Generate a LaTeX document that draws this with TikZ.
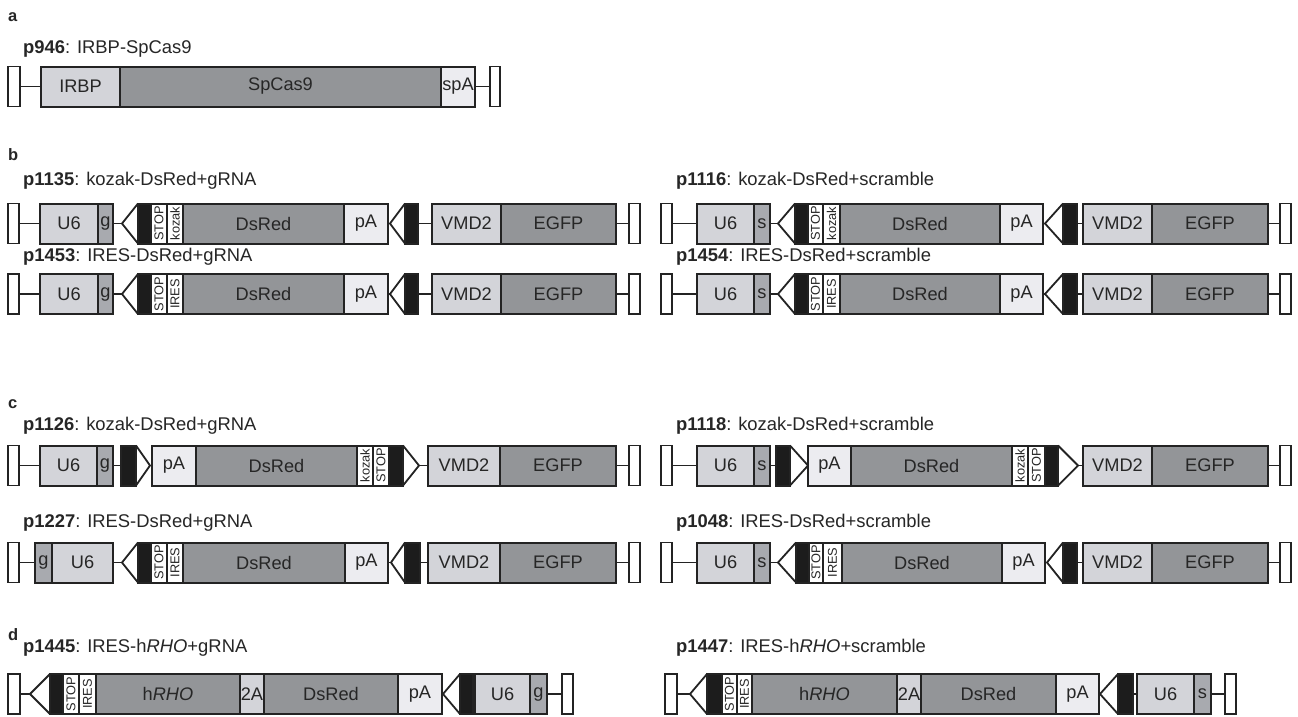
\documentclass[tikz,border=0pt]{standalone}
\usepackage{fontspec}
\setmainfont{Liberation Sans}
\definecolor{edge}{HTML}{232323}
\definecolor{ltg}{HTML}{D3D4D9}
\definecolor{dkg}{HTML}{939598}
\definecolor{mdg}{HTML}{A8AAAF}
\definecolor{vlg}{HTML}{ECECF0}
\definecolor{blk}{HTML}{1C1C1C}
\definecolor{txt}{HTML}{262626}
\newcommand{\boxfont}{\fontsize{18.2}{20}\selectfont}
\newcommand{\vfont}{\fontsize{12.8}{14}\selectfont}
\newcommand{\ttlfont}{\fontsize{18.4}{20}\selectfont}
\newcommand{\letfont}{\fontsize{16.5}{18}\selectfont\bfseries}
\newcommand{\vt}[1]{\rotatebox{90}{#1}}
\newcommand{\elm}[5]{\node[#1, minimum width={(#4)-(#3)}] (#2) at (#3,\yc) {#5};}
\newcommand{\loxL}[4]{\coordinate (#1a) at (#2,\yc); \elm{bk}{#1}{#3}{#4}{} \draw[lox] (#1.north west) -- (#1a) -- (#1.south west);}
\newcommand{\loxR}[4]{\elm{bk}{#1}{#2}{#3}{} \coordinate (#1a) at (#4,\yc); \draw[lox] (#1.north east) -- (#1a) -- (#1.south east);}
\newcommand{\cn}[2]{\draw[conn] (#1) -- (#2);}
\tikzset{
  el/.style={draw=edge, line width=2pt, minimum height=40pt, inner sep=0pt, outer sep=0pt, anchor=west, text=txt, font=\boxfont},
  lt/.style={el, fill=ltg},
  dk/.style={el, fill=dkg},
  md/.style={el, fill=mdg},
  pa/.style={el, fill=vlg},
  wt/.style={el, fill=white, font=\vfont},
  bk/.style={el, fill=blk},
  en/.style={el, fill=white, line width=1.8pt},
  conn/.style={draw=edge, line width=1.6pt},
  lox/.style={draw=edge, line width=1.8pt, line join=miter},
  ttl/.style={anchor=base west, inner sep=0pt, text=txt, font=\ttlfont},
  lett/.style={anchor=base west, inner sep=0pt, text=txt, font=\letfont}
}
\begin{document}
\begin{tikzpicture}[x=1pt,y=-1pt]
\useasboundingbox[fill=white] (0,0) rectangle (1298,716);
% letters
\node[lett] (la) at (8,21) {a};
\node[lett] (lb) at (8,160) {b};
\node[lett] (lc) at (8,408) {c};
\node[lett] (ld) at (8,640) {d};
% titles
\node[ttl] (ta) at (23,53) {\textbf{p946}: IRBP-SpCas9};
\node[ttl] (tb1l) at (23,185) {\textbf{p1135}: kozak-DsRed+gRNA};
\node[ttl] (tb1r) at (676,185) {\textbf{p1116}: kozak-DsRed+scramble};
\node[ttl] (tb2l) at (23,261) {\textbf{p1453}: IRES-DsRed+gRNA};
\node[ttl] (tb2r) at (676,261) {\textbf{p1454}: IRES-DsRed+scramble};
\node[ttl] (tc1l) at (23,430) {\textbf{p1126}: kozak-DsRed+gRNA};
\node[ttl] (tc1r) at (676,430) {\textbf{p1118}: kozak-DsRed+scramble};
\node[ttl] (tc2l) at (23,527) {\textbf{p1227}: IRES-DsRed+gRNA};
\node[ttl] (tc2r) at (676,527) {\textbf{p1048}: IRES-DsRed+scramble};
\node[ttl] (tdl) at (23,652) {\textbf{p1445}: IRES-h\textit{RHO}+gRNA};
\node[ttl] (tdr) at (676,652) {\textbf{p1447}: IRES-h\textit{RHO}+scramble};

% ---------- a ----------
\def\yc{86.5}
\elm{en}{aL}{8}{20}{}
\elm{lt}{aI}{41}{120}{IRBP}
\elm{dk}{aC}{120}{441}{SpCas9}
\elm{pa}{aP}{441}{475}{spA}
\elm{en}{aR}{490}{500}{}
\cn{aL.east}{aI.west} \cn{aP.east}{aR.west}

% ---------- b row 1 ----------
\def\yc{223.5}
\elm{en}{b1lL}{8}{19}{}
\elm{lt}{b1lU}{40}{98}{U6}
\elm{md}{b1lg}{98}{113}{g}
\loxL{b1lk}{122}{138}{151}
\elm{wt}{b1lS}{151}{167}{\vt{STOP}}
\elm{wt}{b1lz}{167}{183}{\vt{kozak}}
\elm{dk}{b1lD}{183}{344}{DsRed}
\elm{pa}{b1lp}{344}{388}{pA}
\loxL{b1lm}{390}{405}{418}
\elm{lt}{b1lV}{432}{501}{VMD2}
\elm{dk}{b1lE}{501}{616}{EGFP}
\elm{en}{b1lR}{629}{640}{}
\cn{b1lL.east}{b1lU.west} \cn{b1lg.east}{b1lka} \cn{b1lp.east}{b1lma} \cn{b1lm.east}{b1lV.west} \cn{b1lE.east}{b1lR.west}

\elm{en}{b1rL}{661}{672}{}
\elm{lt}{b1rU}{697}{754}{U6}
\elm{md}{b1rs}{754}{770}{s}
\loxL{b1rk}{778}{795}{808}
\elm{wt}{b1rS}{808}{823}{\vt{STOP}}
\elm{wt}{b1rz}{823}{840}{\vt{kozak}}
\elm{dk}{b1rD}{840}{1000}{DsRed}
\elm{pa}{b1rp}{1000}{1043}{pA}
\loxL{b1rm}{1045}{1063}{1077}
\elm{lt}{b1rV}{1083}{1152}{VMD2}
\elm{dk}{b1rE}{1152}{1268}{EGFP}
\elm{en}{b1rR}{1280}{1291}{}
\cn{b1rL.east}{b1rU.west} \cn{b1rs.east}{b1rka} \cn{b1rp.east}{b1rma} \cn{b1rm.east}{b1rV.west} \cn{b1rE.east}{b1rR.west}

% ---------- b row 2 ----------
\def\yc{294}
\elm{en}{b2lL}{8}{19}{}
\elm{lt}{b2lU}{40}{98}{U6}
\elm{md}{b2lg}{98}{113}{g}
\loxL{b2lk}{122}{138}{151}
\elm{wt}{b2lS}{151}{167}{\vt{STOP}}
\elm{wt}{b2li}{167}{183}{\vt{IRES}}
\elm{dk}{b2lD}{183}{344}{DsRed}
\elm{pa}{b2lp}{344}{388}{pA}
\loxL{b2lm}{390}{405}{418}
\elm{lt}{b2lV}{432}{501}{VMD2}
\elm{dk}{b2lE}{501}{616}{EGFP}
\elm{en}{b2lR}{629}{640}{}
\cn{b2lL.east}{b2lU.west} \cn{b2lg.east}{b2lka} \cn{b2lp.east}{b2lma} \cn{b2lm.east}{b2lV.west} \cn{b2lE.east}{b2lR.west}

\elm{en}{b2rL}{661}{672}{}
\elm{lt}{b2rU}{697}{754}{U6}
\elm{md}{b2rs}{754}{770}{s}
\loxL{b2rk}{778}{795}{808}
\elm{wt}{b2rS}{808}{823}{\vt{STOP}}
\elm{wt}{b2ri}{823}{840}{\vt{IRES}}
\elm{dk}{b2rD}{840}{1000}{DsRed}
\elm{pa}{b2rp}{1000}{1043}{pA}
\loxL{b2rm}{1045}{1063}{1077}
\elm{lt}{b2rV}{1083}{1152}{VMD2}
\elm{dk}{b2rE}{1152}{1268}{EGFP}
\elm{en}{b2rR}{1280}{1291}{}
\cn{b2rL.east}{b2rU.west} \cn{b2rs.east}{b2rka} \cn{b2rp.east}{b2rma} \cn{b2rm.east}{b2rV.west} \cn{b2rE.east}{b2rR.west}

% ---------- c row 1 ----------
\def\yc{465.5}
\elm{en}{c1lL}{8}{19}{}
\elm{lt}{c1lU}{40}{97}{U6}
\elm{md}{c1lg}{97}{113}{g}
\loxR{c1lk}{121}{136}{150}
\elm{pa}{c1lp}{152}{196}{pA}
\elm{dk}{c1lD}{196}{357}{DsRed}
\elm{wt}{c1lz}{357}{373}{\vt{kozak}}
\elm{wt}{c1lS}{373}{389}{\vt{STOP}}
\loxR{c1lm}{389}{403}{419}
\elm{lt}{c1lV}{428}{500}{VMD2}
\elm{dk}{c1lE}{500}{616}{EGFP}
\elm{en}{c1lR}{629}{640}{}
\cn{c1lL.east}{c1lU.west} \cn{c1lg.east}{c1lk.west} \cn{c1lka}{c1lp.west} \cn{c1lma}{c1lV.west} \cn{c1lE.east}{c1lR.west}

\elm{en}{c1rL}{661}{672}{}
\elm{lt}{c1rU}{697}{754}{U6}
\elm{md}{c1rs}{754}{770}{s}
\loxR{c1rk}{776}{790}{808}
\elm{pa}{c1rp}{808}{851}{pA}
\elm{dk}{c1rD}{851}{1012}{DsRed}
\elm{wt}{c1rz}{1012}{1028}{\vt{kozak}}
\elm{wt}{c1rS}{1028}{1045}{\vt{STOP}}
\loxR{c1rm}{1045}{1058}{1078}
\elm{lt}{c1rV}{1083}{1152}{VMD2}
\elm{dk}{c1rE}{1152}{1268}{EGFP}
\elm{en}{c1rR}{1280}{1291}{}
\cn{c1rL.east}{c1rU.west} \cn{c1rs.east}{c1rk.west} \cn{c1rka}{c1rp.west} \cn{c1rma}{c1rV.west} \cn{c1rE.east}{c1rR.west}

% ---------- c row 2 ----------
\def\yc{562.5}
\elm{en}{c2lL}{8}{19}{}
\elm{md}{c2lg}{35}{52}{g}
\elm{lt}{c2lU}{52}{113}{U6}
\loxL{c2lk}{122}{138}{151}
\elm{wt}{c2lS}{151}{167}{\vt{STOP}}
\elm{wt}{c2li}{167}{183}{\vt{IRES}}
\elm{dk}{c2lD}{183}{345}{DsRed}
\elm{pa}{c2lp}{345}{388}{pA}
\loxL{c2lm}{391}{405}{420}
\elm{lt}{c2lV}{428}{500}{VMD2}
\elm{dk}{c2lE}{500}{616}{EGFP}
\elm{en}{c2lR}{629}{640}{}
\cn{c2lL.east}{c2lg.west} \cn{c2lU.east}{c2lka} \cn{c2lp.east}{c2lma} \cn{c2lm.east}{c2lV.west} \cn{c2lE.east}{c2lR.west}

\elm{en}{c2rL}{661}{672}{}
\elm{lt}{c2rU}{697}{754}{U6}
\elm{md}{c2rs}{754}{770}{s}
\loxL{c2rk}{778}{796}{809}
\elm{wt}{c2rS}{809}{823}{\vt{STOP}}
\elm{wt}{c2ri}{823}{842}{\vt{IRES}}
\elm{dk}{c2rD}{842}{1002}{DsRed}
\elm{pa}{c2rp}{1002}{1045}{pA}
\loxL{c2rm}{1047}{1063}{1077}
\elm{lt}{c2rV}{1083}{1152}{VMD2}
\elm{dk}{c2rE}{1152}{1268}{EGFP}
\elm{en}{c2rR}{1280}{1291}{}
\cn{c2rL.east}{c2rU.west} \cn{c2rs.east}{c2rka} \cn{c2rp.east}{c2rma} \cn{c2rm.east}{c2rV.west} \cn{c2rE.east}{c2rR.west}

% ---------- d ----------
\def\yc{694}
\elm{en}{dlL}{8}{20}{}
\loxL{dlk}{30}{50}{63}
\elm{wt}{dlS}{63}{79}{\vt{STOP}}
\elm{wt}{dli}{79}{96}{\vt{IRES}}
\elm{dk}{dlH}{96}{240}{h\textit{RHO}}
\elm{lt}{dl2}{240}{264}{2A}
\elm{dk}{dlD}{264}{398}{DsRed}
\elm{pa}{dlp}{398}{442}{pA}
\loxL{dlm}{443}{460}{473}
\elm{lt}{dlU}{475}{530}{U6}
\elm{md}{dlg}{530}{547}{g}
\elm{en}{dlR}{562}{573}{}
\cn{dlL.east}{dlka} \cn{dlp.east}{dlma} \cn{dlm.east}{dlU.west} \cn{dlg.east}{dlR.west}

\elm{en}{drL}{665}{677}{}
\loxL{drk}{690}{707}{722}
\elm{wt}{drS}{722}{737}{\vt{STOP}}
\elm{wt}{dri}{737}{752}{\vt{IRES}}
\elm{dk}{drH}{752}{897}{h\textit{RHO}}
\elm{lt}{dr2}{897}{921}{2A}
\elm{dk}{drD}{921}{1056}{DsRed}
\elm{pa}{drp}{1056}{1099}{pA}
\loxL{drm}{1100}{1118}{1133}
\elm{lt}{drU}{1137}{1194}{U6}
\elm{md}{drs}{1194}{1211}{s}
\elm{en}{drR}{1225}{1236}{}
\cn{drL.east}{drka} \cn{drp.east}{drma} \cn{drm.east}{drU.west} \cn{drs.east}{drR.west}
\end{tikzpicture}
\end{document}
